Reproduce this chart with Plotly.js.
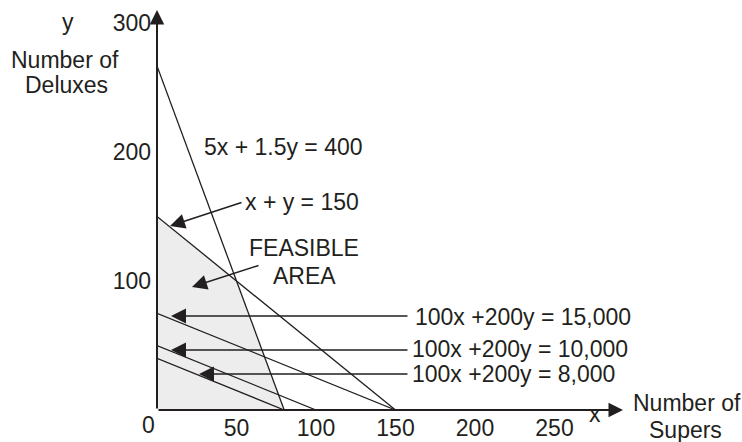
<!DOCTYPE html>
<html>
<head>
<meta charset="utf-8">
<script src="https://cdn.plot.ly/plotly-3.0.1.min.js"></script>
<style>html,body{margin:0;padding:0;background:#fff;}#chart{width:742px;height:442px;}</style>
</head>
<body>
<div id="chart"></div>
<script>
// ---- data ----
const lineNames = ['5x + 1.5y = 400', 'x + y = 150', '100x +200y = 15,000', '100x +200y = 10,000', '100x +200y = 8,000'];
const lineXIntercepts = [80, 150, 150, 100, 80];
const lineYIntercepts = [266.67, 150, 75, 50, 40];
const feasibleX = [0, 0, 50, 80, 0];
const feasibleY = [0, 150, 100, 0, 0];
const xTickVals = [50, 100, 150, 200, 250];
const xTickText = ['50', '100', '150', '200', '250'];
const yTickVals = [100, 200, 300];
const yTickText = ['100', '200', '300'];

// ---- geometry ----
const W = 742, H = 442;
const L = 157, B = 410, PW = 477, PH = 400;
const XR = [0, 300], YR = [0, 310];
const px2x = p => (p - L) / PW * (XR[1] - XR[0]);
const py2y = p => (B - p) / PH * (YR[1] - YR[0]);
const ppx = p => (p - L) / PW;
const ppy = p => (B - p) / PH;
const INK = '#231f20';
const FONT = 'Liberation Sans, Arial, Helvetica, sans-serif';
const FS = 23;

const traces = [];
traces.push({
  x: feasibleX, y: feasibleY, type: 'scatter', mode: 'lines', fill: 'toself',
  fillcolor: '#ededed', line: {width: 0, color: 'rgba(0,0,0,0)'}, hoverinfo: 'skip', showlegend: false
});
lineNames.forEach((n, i) => {
  traces.push({
    x: [0, lineXIntercepts[i]], y: [lineYIntercepts[i], 0], name: n,
    type: 'scatter', mode: 'lines', line: {color: INK, width: 1.3},
    hoverinfo: 'skip', showlegend: false
  });
});

function txt(text, px, py, anchor) {
  return {text: text, xref: 'paper', yref: 'paper', x: ppx(px), y: ppy(py),
    xanchor: anchor || 'center', yanchor: 'middle', showarrow: false,
    font: {family: FONT, size: FS, color: INK}};
}
function arrow(tailPx, tailPy, tipPx, tipPy, w, s) {
  return {text: '', xref: 'x', yref: 'y', axref: 'x', ayref: 'y',
    x: px2x(tipPx), y: py2y(tipPy), ax: px2x(tailPx), ay: py2y(tailPy),
    showarrow: true, arrowhead: 2, arrowsize: s || 2.0, arrowwidth: w || 1.5,
    arrowcolor: INK, standoff: 0, startstandoff: 0};
}

const annotations = [
  // axes
  arrow(L, B, 623, B, 2, 1.45),
  arrow(L, B, L, 10, 2, 1.45),
  // axis texts
  txt('y', 68, 22),
  txt('Number of', 65, 60),
  txt('Deluxes', 66, 85),
  txt('0', 148, 425),
  txt('x', 595, 414),
  txt('Number of', 631, 403, 'left'),
  txt('Supers', 685, 430),
  // line labels
  txt(lineNames[0], 283, 147),
  txt(lineNames[1], 243, 202, 'left'),
  txt('FEASIBLE', 304, 248),
  txt('AREA', 304, 276),
  txt(lineNames[2], 413, 317, 'left'),
  txt(lineNames[3], 410, 349, 'left'),
  txt(lineNames[4], 410, 374, 'left'),
  // pointer arrows
  arrow(243, 202, 170, 226),
  arrow(260, 265, 192, 287),
  arrow(409, 316, 171, 316),
  arrow(409, 350, 171, 350),
  arrow(409, 374, 199, 374)
];

const layout = {
  width: W, height: H,
  margin: {l: L, r: W - L - PW, t: B - PH, b: H - B, pad: 0},
  paper_bgcolor: '#fff', plot_bgcolor: '#fff',
  showlegend: false,
  font: {family: FONT, size: FS, color: INK},
  xaxis: {range: XR, showgrid: false, zeroline: false, showline: false, ticks: '',
    tickmode: 'array', tickvals: xTickVals, ticktext: xTickText, ticklabelstandoff: 2,
    tickfont: {family: FONT, size: FS, color: INK}, fixedrange: true},
  yaxis: {range: YR, showgrid: false, zeroline: false, showline: false, ticks: '',
    tickmode: 'array', tickvals: yTickVals, ticktext: yTickText, ticklabelstandoff: 5,
    tickfont: {family: FONT, size: FS, color: INK}, fixedrange: true},
  annotations: annotations
};

Plotly.newPlot('chart', traces, layout, {staticPlot: true, displayModeBar: false});
</script>
</body>
</html>
